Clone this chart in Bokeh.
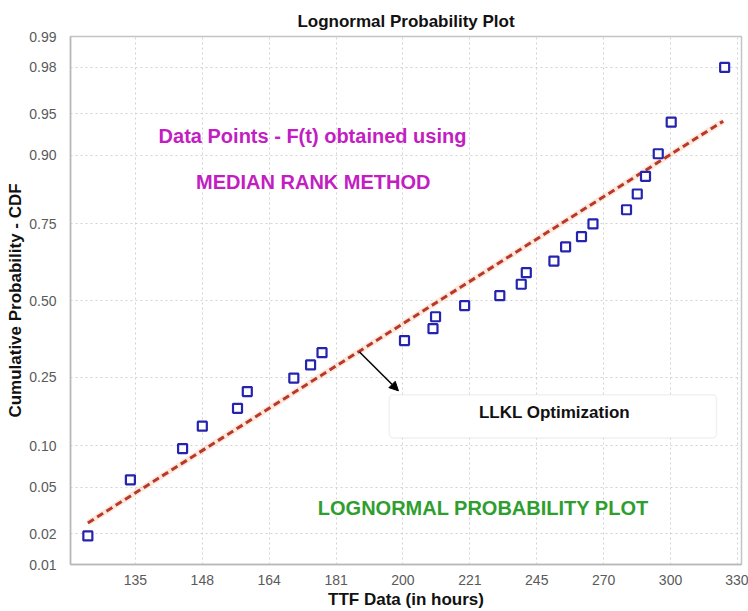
from statistics import NormalDist

from bokeh.plotting import figure
from bokeh.models import (FixedTicker, CustomJSTickFormatter, Label, Arrow, NormalHead,
                          BoxAnnotation, ColumnDataSource, Range1d)
from bokeh.embed import file_html
from bokeh.resources import INLINE

_nd = NormalDist()


def probit(pr):
    return _nd.inv_cdf(pr)


# ---------------- data ----------------
ttf_hours = [125.8, 134.0, 144.8, 149.1, 157.1, 159.4, 170.8, 175.1, 178.1,
             201.3, 210.0, 210.8, 220.1, 231.9, 239.4, 241.2, 251.3, 255.7,
             261.8, 266.3, 279.9, 284.4, 287.9, 293.4, 299.1, 323.8]
cdf_median_rank = [0.019, 0.057, 0.096, 0.134, 0.171, 0.211, 0.247, 0.285, 0.323,
                   0.362, 0.402, 0.443, 0.482, 0.517, 0.557, 0.597, 0.636, 0.682,
                   0.713, 0.750, 0.788, 0.826, 0.863, 0.902, 0.942, 0.980]

fit_hours = [125.8, 323.1]
fit_cdf = [0.025, 0.943]

x_tick_labels = ["135", "148", "164", "181", "200", "221", "245", "270", "300", "330"]
y_tick_probs = [0.01, 0.02, 0.05, 0.10, 0.25, 0.50, 0.75, 0.90, 0.95, 0.98, 0.99]
y_tick_labels = ["0.01", "0.02", "0.05", "0.10", "0.25", "0.50", "0.75", "0.90",
                 "0.95", "0.98", "0.99"]

# ---------------- scales ----------------
x_first, x_last = 135.0, 330.0
n_xt = len(x_tick_labels)
x_ticks = [x_first * (x_last / x_first) ** (i / (n_xt - 1)) for i in range(n_xt)]
y_ticks = [probit(v) for v in y_tick_probs]

FONT = "Liberation Sans"

p = figure(width=748, height=611, x_axis_type="log",
           x_range=Range1d(122.6, 332.0),
           y_range=Range1d(probit(0.01), probit(0.99)),
           output_backend="svg", toolbar_location=None,
           min_border_left=70, min_border_right=7,
           min_border_top=36, min_border_bottom=46,
           title="Lognormal Probability Plot")

p.title.align = "center"
p.title.text_font = FONT
p.title.text_font_size = "17px"
p.title.text_font_style = "bold"
p.title.text_color = "#111111"
p.title.standoff = 11

p.outline_line_color = "#c4c4c4"
p.outline_line_width = 1.5
p.background_fill_color = "white"
p.border_fill_color = "white"

# axes
p.xaxis.ticker = FixedTicker(ticks=x_ticks, minor_ticks=[])
p.xaxis.formatter = CustomJSTickFormatter(args=dict(labels=x_tick_labels),
                                          code="return labels[index];")
p.yaxis.ticker = FixedTicker(ticks=y_ticks, minor_ticks=[])
p.yaxis.formatter = CustomJSTickFormatter(args=dict(labels=y_tick_labels),
                                          code="return labels[index];")

for ax in (p.xaxis[0], p.yaxis[0]):
    ax.major_tick_line_color = None
    ax.minor_tick_line_color = None
    ax.axis_line_color = "#b8b8b8"
    ax.axis_line_width = 1.5
    ax.major_label_text_font = FONT
    ax.major_label_text_font_size = "14px"
    ax.major_label_text_color = "#5a5a5a"
    ax.axis_label_text_font = FONT
    ax.axis_label_text_font_size = "17px"
    ax.axis_label_text_font_style = "bold"
    ax.axis_label_text_color = "#111111"

p.xaxis.axis_label = "TTF Data (in hours)"
p.yaxis.axis_label = "Cumulative Probability - CDF"
p.xaxis.major_label_standoff = 4
p.xaxis.axis_label_standoff = 2
p.yaxis.major_label_standoff = 8
p.yaxis.axis_label_standoff = 1

for g in (p.xgrid[0], p.ygrid[0]):
    g.grid_line_color = "#d2d2d2"
    g.grid_line_dash = "2 3"
    g.grid_line_width = 1

# ---------------- glyphs ----------------
fit_src = ColumnDataSource(dict(x=fit_hours, y=[probit(v) for v in fit_cdf]))
p.line("x", "y", source=fit_src, line_color="#f6a57a", line_width=6, line_alpha=0.25)
p.line("x", "y", source=fit_src, line_color="#b8392a", line_width=3, line_dash="7 4")

pts = ColumnDataSource(dict(x=ttf_hours, y=[probit(v) for v in cdf_median_rank]))
p.scatter("x", "y", source=pts, marker="square", size=9, fill_color="white",
          line_color="#2424ae", line_width=2.2)

# ---------------- annotations ----------------
p.add_layout(BoxAnnotation(left=196.8, right=319.9, bottom=probit(0.113), top=probit(0.203),
                           fill_color="white", fill_alpha=1.0,
                           line_color="#cfcfcf", line_width=1.5, border_radius=4))

p.add_layout(Arrow(x_start=188.3, y_start=probit(0.325), x_end=199.5, y_end=probit(0.213),
                   line_color="black", line_width=1.5,
                   end=NormalHead(size=9, fill_color="black", line_color="black")))


def add_label(x, pr, text, color, size):
    p.add_layout(Label(x=x, y=probit(pr), text=text, text_align="center",
                       text_baseline="middle", text_font=FONT, text_font_size=size,
                       text_font_style="bold", text_color=color))


add_label(175.6, 0.927, "Data Points - F(t) obtained using", "#c21ec2", "20px")
add_label(175.8, 0.851, "MEDIAN RANK METHOD", "#c21ec2", "20px")
add_label(226.3, 0.0337, "LOGNORMAL PROBABILITY PLOT", "#2e9e2e", "20px")
add_label(251.5, 0.162, "LLKL Optimization", "#111111", "17px")

open("out.html", "w").write(file_html(p, INLINE))
